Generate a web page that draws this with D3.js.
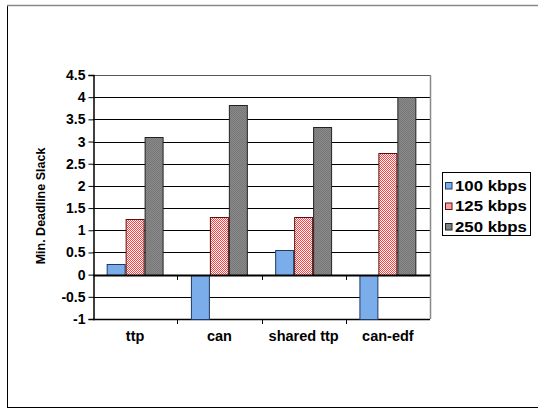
<!DOCTYPE html>
<html>
<head>
<meta charset="utf-8"/>
<script src="https://d3js.org/d3.v7.min.js"></script>
<style>
    body { margin: 0; background: #fff; }
    text { font-family: "Liberation Sans", Arial, sans-serif; font-weight: bold; }
</style>
</head>
<body>
<svg width="538" height="410"></svg>
<script>
    // datos
    const categories = ["ttp", "can", "shared ttp", "can-edf"];
    const seriesNames = ["100 kbps", "125 kbps", "250 kbps"];
    const v100 = [0.25, -1, 0.55, -1];
    const v125 = [1.25, 1.3, 1.3, 2.75];
    const v250 = [3.1, 3.82, 3.33, 4.0];
    const yTicks = [-1, -0.5, 0, 0.5, 1, 1.5, 2, 2.5, 3, 3.5, 4, 4.5];

    const allSeries = [v100, v125, v250];
    const fills = ["#7badea", "url(#redPat)", "url(#grayPat)"];
    const strokes = ["#1f3a60", "#5a1010", "#222"];

    const svg = d3.select("svg");

    // patrones
    const defs = svg.append("defs");
    const rp = defs.append("pattern").attr("id", "redPat")
        .attr("width", 2).attr("height", 2).attr("patternUnits", "userSpaceOnUse");
    rp.append("rect").attr("width", 2).attr("height", 2).attr("fill", "#ffffff");
    rp.append("rect").attr("width", 1).attr("height", 1).attr("fill", "#ff4040");
    rp.append("rect").attr("x", 1).attr("y", 1).attr("width", 1).attr("height", 1).attr("fill", "#ff4040");
    const gp = defs.append("pattern").attr("id", "grayPat")
        .attr("width", 2).attr("height", 2).attr("patternUnits", "userSpaceOnUse");
    gp.append("rect").attr("width", 2).attr("height", 2).attr("fill", "#8a8a8a");
    gp.append("rect").attr("width", 1).attr("height", 1).attr("fill", "#777");
    gp.append("rect").attr("x", 1).attr("y", 1).attr("width", 1).attr("height", 1).attr("fill", "#777");

    // borde exterior
    svg.append("rect").attr("x", 7.5).attr("y", 5.5).attr("width", 540).attr("height", 402)
        .attr("fill", "none").attr("stroke", "#000").attr("stroke-width", 1);
    svg.append("line").attr("x1", 7).attr("x2", 538).attr("y1", 5.5).attr("y2", 5.5)
        .attr("stroke", "#888").attr("stroke-width", 1.5);

    const pLeft = 93, pRight = 430, pTop = 75, pBottom = 319;

    const y = d3.scaleLinear().domain([-1, 4.5]).range([pBottom, pTop]);
    const x = d3.scaleBand().domain(categories).range([pLeft, pRight]).padding(0);
    const xs = d3.scaleBand().domain(d3.range(seriesNames.length))
        .range([0, x.bandwidth()]).paddingInner(0).paddingOuter(0.72);

    // rejilla
    svg.append("g").selectAll("line").data(yTicks).enter().append("line")
        .attr("x1", pLeft).attr("x2", pRight)
        .attr("y1", d => Math.round(y(d)) + 0.5).attr("y2", d => Math.round(y(d)) + 0.5)
        .attr("stroke", d => d === 4.5 ? "#555" : "#000")
        .attr("stroke-width", d => (d === -1) ? 1.5 : 1);

    // borde derecho del área
    svg.append("line").attr("x1", pRight + 0.5).attr("x2", pRight + 0.5)
        .attr("y1", pTop).attr("y2", pBottom)
        .attr("stroke", "#888").attr("stroke-width", 1.5);

    // barras
    allSeries.forEach((vals, s) => {
        svg.append("g").selectAll("rect").data(vals).enter().append("rect")
            .attr("x", (d, i) => x(categories[i]) + xs(s) + 0.5)
            .attr("width", xs.bandwidth() - 1)
            .attr("y", d => Math.round(y(Math.max(0, d))) + 0.5)
            .attr("height", d => Math.abs(Math.round(y(d)) - Math.round(y(0))))
            .attr("fill", fills[s])
            .attr("stroke", strokes[s])
            .attr("stroke-width", 1);
    });

    // eje en cero
    svg.append("line").attr("x1", pLeft).attr("x2", pRight)
        .attr("y1", Math.round(y(0)) + 0.5).attr("y2", Math.round(y(0)) + 0.5)
        .attr("stroke", "#000").attr("stroke-width", 2);

    // marcas de categoría
    const bounds = categories.slice(1).map(c => x(c));
    [y(0), y(-1)].forEach(yy => {
        svg.append("g").selectAll("line").data(bounds).enter().append("line")
            .attr("x1", d => Math.round(d) + 0.5).attr("x2", d => Math.round(d) + 0.5)
            .attr("y1", Math.round(yy)).attr("y2", Math.round(yy) + 5)
            .attr("stroke", "#000");
    });

    // eje y
    const yAxis = d3.axisLeft(y).tickValues(yTicks).tickSize(5).tickPadding(3)
        .tickFormat(d => d);
    const gy = svg.append("g").attr("transform", "translate(" + (pLeft + 0.5) + ",0)").call(yAxis);
    gy.select(".domain").attr("stroke", "#000").attr("stroke-width", 1.5);
    gy.selectAll("text").style("font-size", "14px").attr("fill", "#000");

    // etiquetas x
    svg.append("g").selectAll("text").data(categories).enter().append("text")
        .attr("x", d => x(d) + x.bandwidth() / 2)
        .attr("y", 341)
        .attr("text-anchor", "middle")
        .style("font-size", "14.5px")
        .text(d => d);

    // título y
    svg.append("text")
        .attr("transform", "translate(45,206) rotate(-90)")
        .attr("text-anchor", "middle")
        .style("font-size", "12.5px")
        .text("Min. Deadline Slack");

    // leyenda
    const lg = svg.append("g").attr("transform", "translate(442,172)");
    lg.append("rect").attr("x", 0.5).attr("y", 0.5).attr("width", 88).attr("height", 63)
        .attr("fill", "#fff").attr("stroke", "#000");
    seriesNames.forEach((n, i) => {
        const row = lg.append("g").attr("transform", "translate(3," + (10 + i * 20.5) + ")");
        row.append("rect").attr("x", 0.5).attr("y", 0.5).attr("width", 6.5).attr("height", 6.5)
            .attr("fill", fills[i]).attr("stroke", strokes[i]);
        row.append("text").attr("transform", "translate(10,8.5) scale(1.2,1)")
            .style("font-size", "14px").text(n);
    });
</script>
</body>
</html>
